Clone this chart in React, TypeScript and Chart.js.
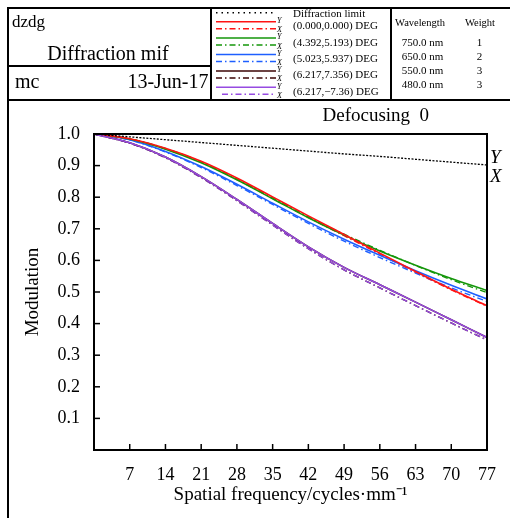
import React, { useEffect, useRef } from 'react';
import { Chart, registerables } from 'chart.js';

Chart.register(...registerables);

// ---------- data ----------
const frequencies = [0, 7, 14, 21, 28, 35, 42, 49, 56, 63, 70, 77];
const xTickLabels = ['', '7', '14', '21', '28', '35', '42', '49', '56', '63', '70', '77'];
const yTickLabels = ['', '0.1', '0.2', '0.3', '0.4', '0.5', '0.6', '0.7', '0.8', '0.9', '1.0'];

const diffractionLimit = [1.0, 0.991, 0.982, 0.973, 0.964, 0.955, 0.946, 0.937, 0.929, 0.92, 0.911, 0.902];

const field1Y = [1.0, 0.985, 0.955, 0.914, 0.861, 0.801, 0.741, 0.682, 0.623, 0.565, 0.509, 0.457];
const field1X = [1.0, 0.984, 0.953, 0.911, 0.856, 0.796, 0.736, 0.678, 0.62, 0.562, 0.507, 0.455];
const field2Y = [1.0, 0.984, 0.952, 0.909, 0.855, 0.795, 0.735, 0.68, 0.63, 0.585, 0.543, 0.505];
const field2X = [1.0, 0.985, 0.954, 0.912, 0.858, 0.798, 0.738, 0.683, 0.632, 0.584, 0.539, 0.498];
const field3Y = [1.0, 0.982, 0.945, 0.897, 0.841, 0.781, 0.722, 0.667, 0.616, 0.567, 0.521, 0.478];
const field3X = [1.0, 0.981, 0.943, 0.894, 0.837, 0.777, 0.717, 0.661, 0.609, 0.56, 0.513, 0.47];
const field4Y = [1.0, 0.972, 0.927, 0.865, 0.793, 0.717, 0.643, 0.578, 0.523, 0.468, 0.412, 0.356];
const field4X = [1.0, 0.971, 0.925, 0.862, 0.789, 0.712, 0.637, 0.57, 0.513, 0.457, 0.402, 0.348];
const field5Y = [1.0, 0.972, 0.927, 0.865, 0.793, 0.717, 0.643, 0.578, 0.523, 0.468, 0.412, 0.356];
const field5X = [1.0, 0.971, 0.925, 0.862, 0.789, 0.712, 0.637, 0.57, 0.513, 0.457, 0.402, 0.348];

const fieldLabels = [
  '(0.000,0.000) DEG',
  '(4.392,5.193) DEG',
  '(5.023,5.937) DEG',
  '(6.217,7.356) DEG',
  '(6.217,\u22127.36) DEG',
];
const wavelengths = ['750.0 nm', '650.0 nm', '550.0 nm', '480.0 nm'];
const weights = ['1', '2', '3', '3'];

// ---------- styles ----------
const fieldColors = ['rgb(255,20,20)', 'rgb(20,150,10)', 'rgb(30,95,255)', 'rgb(60,5,5)', 'rgb(150,75,225)'];
const solidOrder = [3, 4, 5, 6, 2];
const dashedOrder = [20, 19, 18, 17, 16];
const SERIF = "'Liberation Serif', 'Times New Roman', serif";
const DASHDOT = [6, 3, 1.5, 3];

const toPoints = (vals: number[]) => vals.map((v, i) => ({ x: frequencies[i], y: v }));

const fieldSeries = [
  [field1Y, field1X],
  [field2Y, field2X],
  [field3Y, field3X],
  [field4Y, field4X],
  [field5Y, field5X],
];

function txt(ctx: CanvasRenderingContext2D, s: string, x: number, y: number, font: string, align: CanvasTextAlign = 'left') {
  ctx.font = font;
  ctx.textAlign = align;
  ctx.textBaseline = 'alphabetic';
  ctx.fillStyle = '#000';
  ctx.fillText(s, x, y);
}

function line(ctx: CanvasRenderingContext2D, x1: number, y1: number, x2: number, y2: number) {
  ctx.beginPath();
  ctx.moveTo(x1, y1);
  ctx.lineTo(x2, y2);
  ctx.stroke();
}

const framePlugin = {
  id: 'framePlugin',
  beforeDraw(chart: any) {
    const ctx: CanvasRenderingContext2D = chart.ctx;
    ctx.save();
    ctx.fillStyle = '#fff';
    ctx.fillRect(0, 0, chart.width, chart.height);
    // frame
    ctx.strokeStyle = '#000';
    ctx.lineWidth = 2;
    ctx.setLineDash([]);
    line(ctx, 7, 8, 510, 8);
    line(ctx, 8, 7, 8, 518);
    line(ctx, 211, 7, 211, 100);
    line(ctx, 391, 7, 391, 100);
    line(ctx, 7, 66, 211, 66);
    line(ctx, 7, 100, 510, 100);

    // title block
    txt(ctx, 'dzdg', 12, 26.5, `17px ${SERIF}`);
    txt(ctx, 'Diffraction mif', 108, 60, `20px ${SERIF}`, 'center');
    txt(ctx, 'mc', 15, 87.5, `20px ${SERIF}`);
    txt(ctx, '13-Jun-17', 208.5, 87.5, `20px ${SERIF}`, 'right');

    // legend block
    const ds = chart.data.datasets;
    ctx.lineWidth = 1.5;
    ctx.strokeStyle = '#000';
    ctx.setLineDash([1.5, 4]);
    line(ctx, 216, 12.7, 276, 12.7);
    txt(ctx, 'Diffraction limit', 293, 16.5, `11px ${SERIF}`);
    for (let i = 0; i < fieldLabels.length; i++) {
      const ys = 21.7 + 16.4 * i;
      const yd = ys + 7;
      const solid = ds[1 + i * 2];
      const dashed = ds[2 + i * 2];
      ctx.strokeStyle = solid.borderColor;
      ctx.setLineDash([]);
      line(ctx, 216, ys, 276, ys);
      ctx.strokeStyle = dashed.borderColor;
      ctx.setLineDash(DASHDOT);
      line(ctx, i === 4 ? 222 : 216, yd, 276, yd);
      ctx.setLineDash([]);
      txt(ctx, 'Y', 277, ys + 1.2, `italic 8px ${SERIF}`);
      txt(ctx, 'X', 277, yd + 3.5, `italic 8px ${SERIF}`);
      txt(ctx, fieldLabels[i], 293, ys + 7.5, `11px ${SERIF}`);
    }

    // wavelength block
    txt(ctx, 'Wavelength', 420, 26.3, `10.5px ${SERIF}`, 'center');
    txt(ctx, 'Weight', 480, 26.3, `10.5px ${SERIF}`, 'center');
    const rowY = [45.8, 60.2, 74.2, 87.8];
    for (let i = 0; i < wavelengths.length; i++) {
      txt(ctx, wavelengths[i], 422.5, rowY[i], `11px ${SERIF}`, 'center');
      txt(ctx, weights[i], 479.5, rowY[i], `11px ${SERIF}`, 'center');
    }

    txt(ctx, 'Defocusing  0', 322.5, 121, `19px ${SERIF}`);
    ctx.restore();
  },
  afterDatasetsDraw(chart: any) {
    const ctx: CanvasRenderingContext2D = chart.ctx;
    const { left, right, top, bottom } = chart.chartArea;
    const xs = chart.scales.x;
    const ys = chart.scales.y;
    ctx.save();
    ctx.strokeStyle = '#000';
    ctx.setLineDash([]);
    ctx.lineWidth = 1.5;
    // inward ticks
    xs.ticks.forEach((t: any) => {
      const px = xs.getPixelForValue(t.value);
      line(ctx, px, bottom, px, bottom - 6);
    });
    ys.ticks.forEach((t: any) => {
      const py = ys.getPixelForValue(t.value);
      line(ctx, left, py, left + 6, py);
    });
    ctx.lineWidth = 2;
    ctx.strokeRect(left, top, right - left, bottom - top);
    // Y / X labels at diffraction end
    const yEnd = ys.getPixelForValue(diffractionLimit[diffractionLimit.length - 1]);
    txt(ctx, 'Y', 490, yEnd - 2, `italic 19px ${SERIF}`);
    txt(ctx, 'X', 490, yEnd + 17, `italic 19px ${SERIF}`);
    ctx.restore();
  },
};

export default function App() {
  const ref = useRef<HTMLCanvasElement | null>(null);

  useEffect(() => {
    if (!ref.current) return;
    const datasets: any[] = [
      {
        label: 'Diffraction limit',
        data: toPoints(diffractionLimit),
        borderColor: '#000',
        borderWidth: 1.3,
        borderDash: [2, 1.5],
        order: 1,
      },
    ];
    fieldSeries.forEach(([yv, xv], i) => {
      datasets.push({
        label: fieldLabels[i] + ' Y',
        data: toPoints(yv),
        borderColor: fieldColors[i],
        borderWidth: 1.6,
        order: solidOrder[i],
      });
      datasets.push({
        label: fieldLabels[i] + ' X',
        data: toPoints(xv),
        borderColor: fieldColors[i],
        borderWidth: 1.4,
        borderDash: DASHDOT,
        order: dashedOrder[i],
      });
    });

    const chart = new Chart(ref.current, {
      type: 'line',
      data: { datasets },
      options: {
        animation: false,
        responsive: false,
        devicePixelRatio: 1,
        layout: { padding: { left: 0, right: 23, top: 134, bottom: 0 } },
        elements: {
          point: { radius: 0 },
          line: { cubicInterpolationMode: 'monotone', fill: false },
        },
        plugins: { legend: { display: false }, tooltip: { enabled: false }, title: { display: false } },
        scales: {
          x: {
            type: 'linear',
            min: 0,
            max: 77,
            afterFit: (s: any) => { s.height = 68; },
            grid: { display: false, drawTicks: false },
            border: { display: false },
            ticks: {
              stepSize: 7,
              autoSkip: false,
              maxRotation: 0,
              padding: 14,
              color: '#000',
              font: { family: SERIF, size: 18 },
              callback: (v: any) => xTickLabels[Math.round(Number(v) / 7)] ?? '',
            },
            title: {
              display: true,
              text: 'Spatial frequency/cycles\u00b7mm\u207b\u00b9',
              color: '#000',
              font: { family: SERIF, size: 19 },
              padding: { top: 0, bottom: 12 },
            },
          },
          y: {
            min: 0,
            max: 1,
            afterFit: (s: any) => { s.width = 94; },
            grid: { display: false, drawTicks: false },
            border: { display: false },
            ticks: {
              stepSize: 0.1,
              autoSkip: false,
              padding: 14,
              color: '#000',
              font: { family: SERIF, size: 18 },
              callback: (v: any) => yTickLabels[Math.round(Number(v) * 10)] ?? '',
            },
            title: {
              display: true,
              text: 'Modulation',
              color: '#000',
              font: { family: SERIF, size: 19 },
              padding: { top: 22, bottom: 0 },
            },
          },
        },
      },
      plugins: [framePlugin],
    } as any);
    return () => chart.destroy();
  }, []);

  return (
    <div style={{ position: 'absolute', left: 0, top: 0, width: 510, height: 518, background: '#fff' }}>
      <canvas ref={ref} width={510} height={518} style={{ display: 'block', width: 510, height: 518 }} />
    </div>
  );
}
